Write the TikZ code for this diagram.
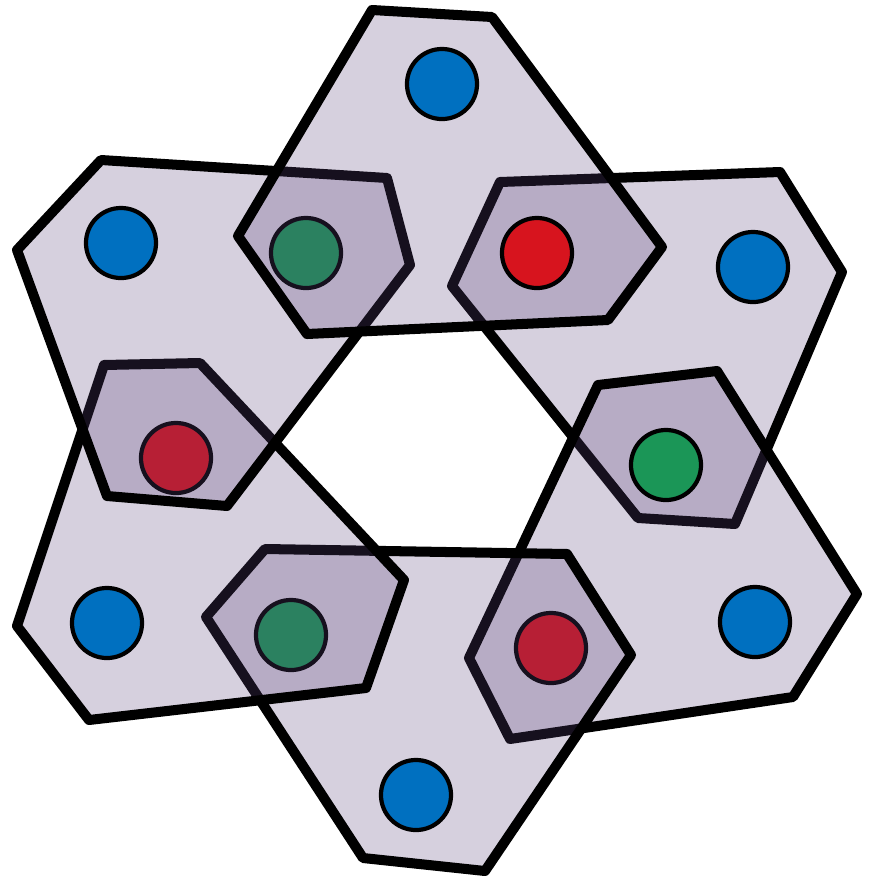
\documentclass[tikz,border=0pt]{standalone}
\usepackage{xcolor}
\definecolor{cellfill}{RGB}{91,67,123}
\definecolor{dotblue}{RGB}{0,112,192}
\definecolor{dotred}{RGB}{215,20,30}
\definecolor{dotgreen}{RGB}{27,150,87}
\usetikzlibrary{positioning}

\begin{document}
\begin{tikzpicture}[x=0.01cm, y=-0.01cm,
  cell/.style={draw=black, line width=2.85pt, line join=round, fill=cellfill, fill opacity=0.25},
  dot/.style={circle, draw=black, line width=1.2pt, inner sep=0pt, minimum size=0.7cm}]
  \useasboundingbox (0,0) rectangle (874,881);
  % Cell 1: right upper
  \draw[cell] (500,182) -- (780,172) -- (842,272) -- (735,524) -- (638,518) -- (452,286) -- cycle;
  \node[dot, fill=dotblue] (ru) at (753,267) {};
  % Cell 2: right lower
  \draw[cell] (598,385) -- (717,371) -- (857,594) -- (793,697) -- (510,739) -- (469,658) -- cycle;
  \node[dot, fill=dotblue] (rl) at (755,622) {};
  \node[dot, fill=dotgreen] (g1) at (666,465) {};
  \node[dot, fill=dotred] (r2) at (551,648) {};
  % Cell 3: bottom
  \draw[cell] (265,549) -- (567,554) -- (631,655) -- (485,871) -- (363,858) -- (206,617) -- cycle;
  \node[dot, fill=dotblue] (bo) at (416,795) {};
  \node[dot, fill=dotgreen] (g2) at (291,635) {};
  % Cell 4: left lower
  \draw[cell] (104,365) -- (200,363) -- (404,580) -- (366,688) -- (89,720) -- (17,626) -- cycle;
  \node[dot, fill=dotblue] (ll) at (107,623) {};
  \node[dot, fill=dotred] (r3) at (176,458) {};
  % Cell 5: left upper
  \draw[cell] (101,160) -- (387,178) -- (410,265) -- (227,506) -- (107,496) -- (17,250) -- cycle;
  \node[dot, fill=dotblue] (lu) at (121,243) {};
  \node[dot, fill=dotgreen] (g3) at (306,253) {};
  % Cell 6: top
  \draw[cell] (372,10) -- (492,17) -- (662,247) -- (608,320) -- (307,334) -- (238,236) -- cycle;
  \node[dot, fill=dotblue] (to) at (442,84) {};
  \node[dot, fill=dotred] (r1) at (537,253) {};
\end{tikzpicture}
\end{document}
